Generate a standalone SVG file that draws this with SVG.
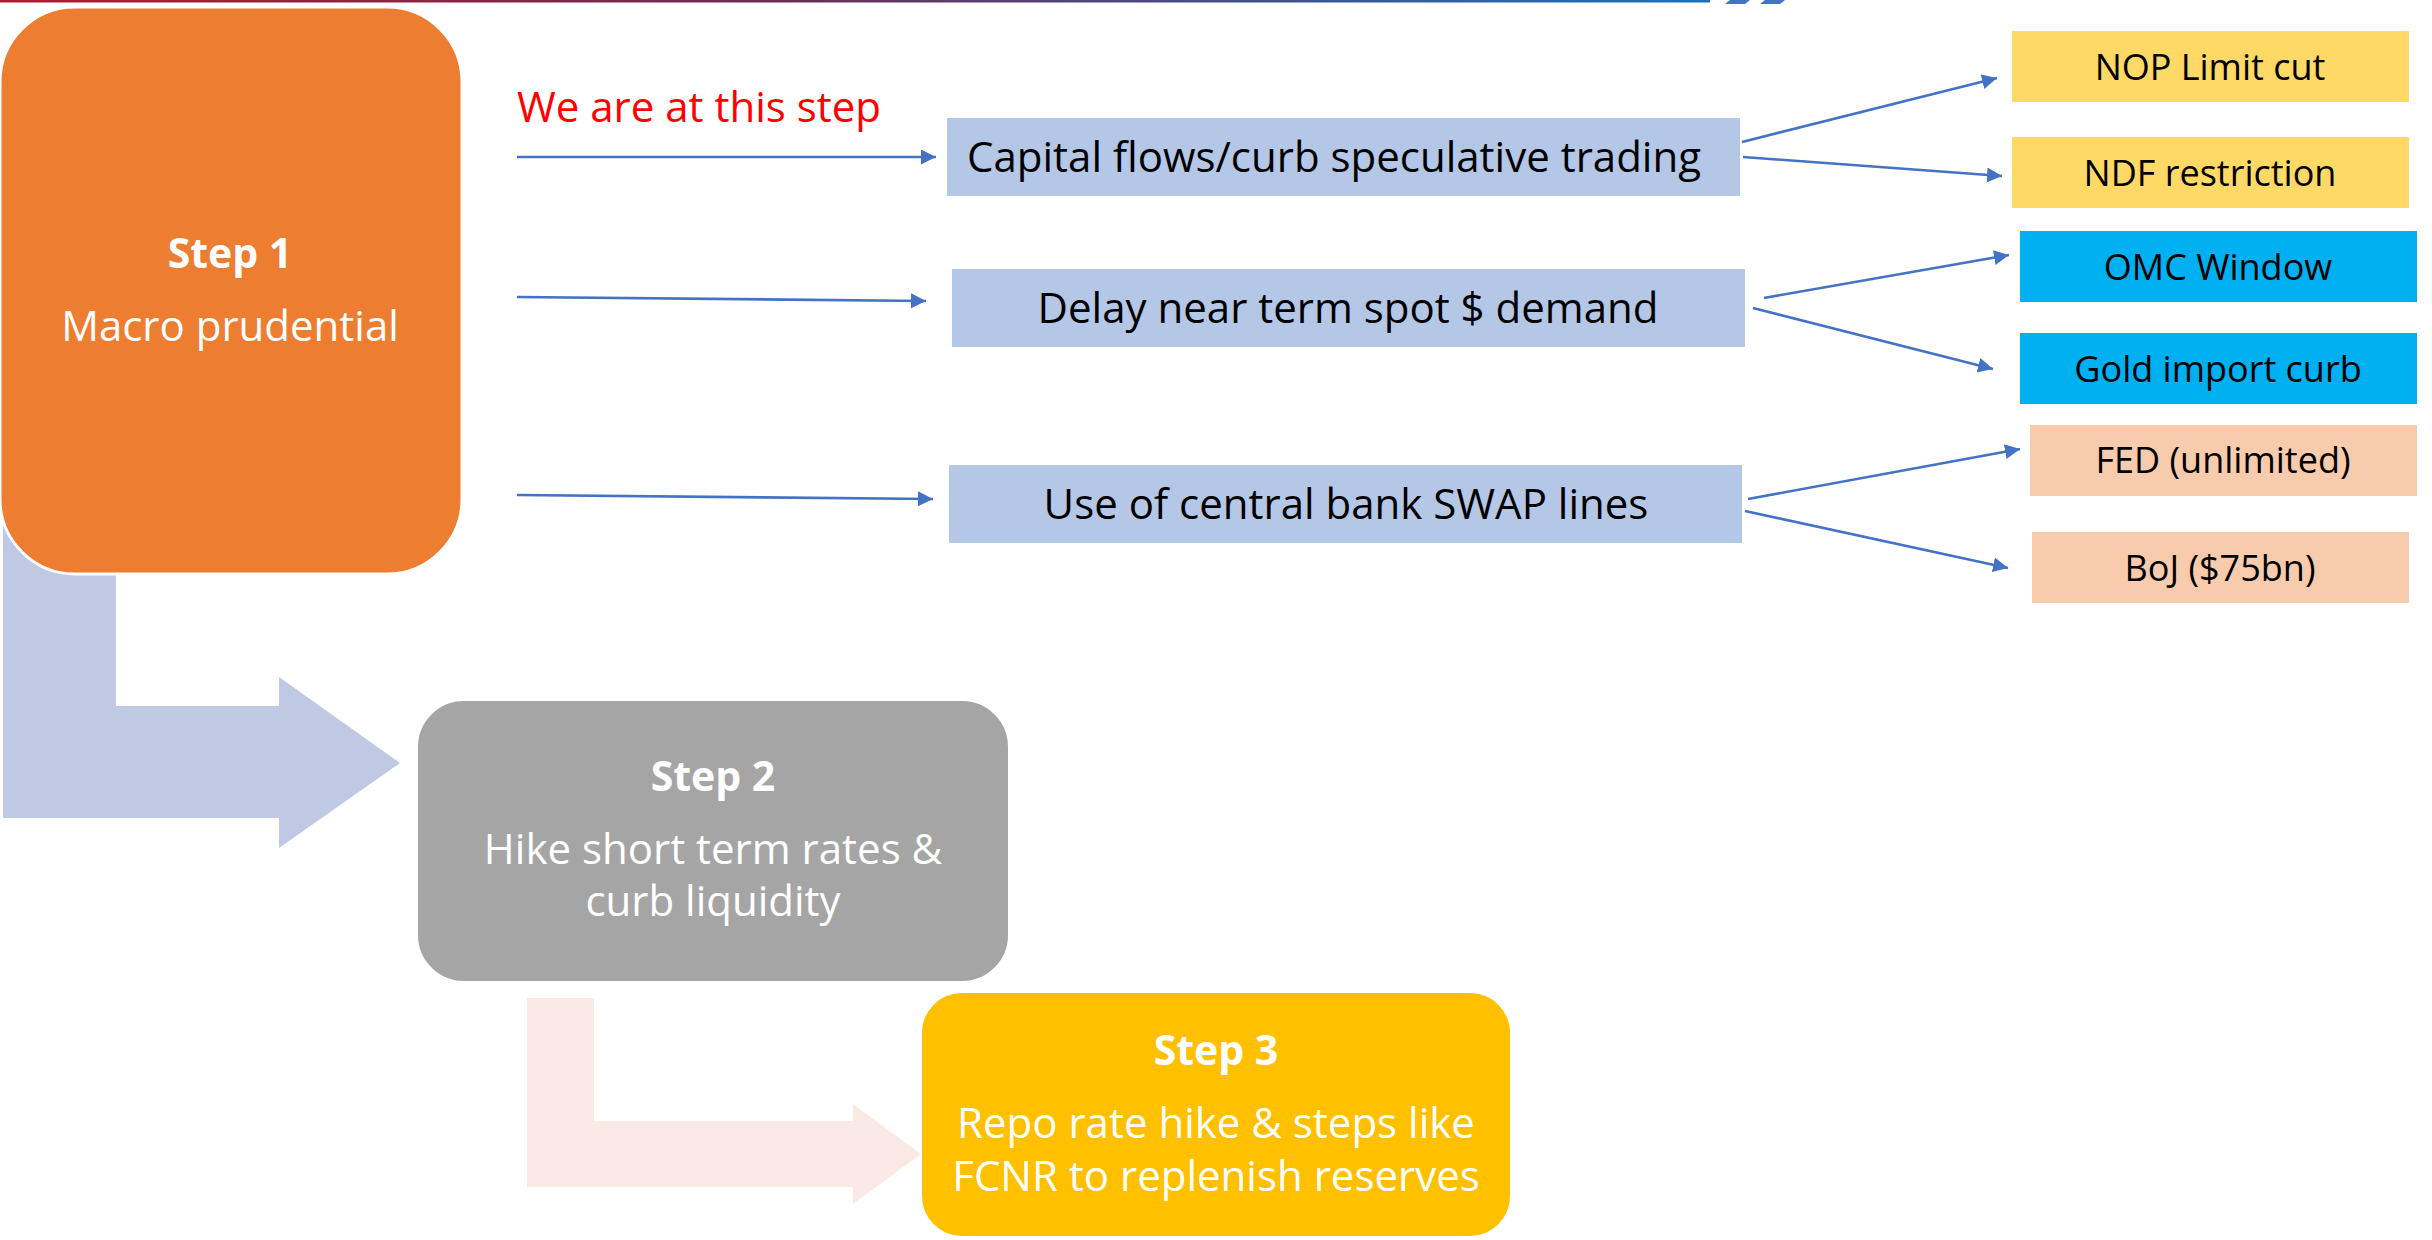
<svg xmlns="http://www.w3.org/2000/svg" width="2432" height="1240" viewBox="0 0 2432 1240">
  <style>
    .t { font-family: "Open Sans", "Liberation Sans", sans-serif; text-anchor: middle; }
    .step { font-size: 41px; font-weight: bold; fill: #FFFFFF; }
    .stepbody { font-size: 42px; fill: #FFFFFF; }
    .mid { font-size: 42px; fill: #000000; }
    .leaf { font-size: 36px; fill: #000000; }
    .note { font-size: 42px; fill: #FF0000; text-anchor: start; }
    .mbox { fill: #B4C7E7; }
    .conn { stroke: #4472C4; stroke-width: 2.6; fill: none; marker-end: url(#arrow); }
  </style>
  <defs>
    <linearGradient id="topbar" x1="0" y1="0" x2="1" y2="0">
      <stop offset="0" stop-color="#B2182B"/>
      <stop offset="0.45" stop-color="#6B2F55"/>
      <stop offset="1" stop-color="#1C72BE"/>
    </linearGradient>
    <marker id="arrow" markerUnits="userSpaceOnUse" markerWidth="16" markerHeight="16" refX="15" refY="7.5" orient="auto">
      <path d="M0,0 L15,7.5 L0,15 z" fill="#4472C4"/>
    </marker>
  </defs>

  <!-- header rule -->
  <rect x="0" y="0" width="1710" height="2.5" fill="url(#topbar)"/>
  <polygon points="1725,4 1730,0 1750,0 1745,4" fill="#4472C4"/>
  <polygon points="1760,4 1765,0 1785,0 1780,4" fill="#4472C4"/>

  <!-- bent flow arrows between steps -->
  <polygon id="flow-1-2" points="3,300 116,300 116,706 279,706 279,677 400,763 279,848 279,818 3,818" fill="#BFC9E3"/>
  <polygon id="flow-2-3" points="527,998 594,998 594,1121 853,1121 853,1104 921,1154 853,1204 853,1187 527,1187" fill="#FBE9E5"/>

  <!-- Step 1 -->
  <g id="step1">
    <rect x="0" y="7" width="462" height="567" rx="75" ry="75" fill="#ED7D31" stroke="#FFFFFF" stroke-width="3"/>
    <text class="t step" x="230" y="268">Step 1</text>
    <text class="t stepbody" x="230" y="341">Macro prudential</text>
  </g>

  <!-- Step 2 -->
  <g id="step2">
    <rect x="417" y="700" width="592" height="282" rx="47" ry="47" fill="#A5A5A5" stroke="#FFFFFF" stroke-width="2"/>
    <text class="t step" x="713" y="791">Step 2</text>
    <text class="t stepbody" x="713" y="864">Hike short term rates &amp;</text>
    <text class="t stepbody" x="713" y="916">curb liquidity</text>
  </g>

  <!-- Step 3 -->
  <g id="step3">
    <rect x="921" y="992" width="590" height="245" rx="41" ry="41" fill="#FFC000" stroke="#FFFFFF" stroke-width="2"/>
    <text class="t step" x="1216" y="1065">Step 3</text>
    <text class="t stepbody" x="1216" y="1138">Repo rate hike &amp; steps like</text>
    <text class="t stepbody" x="1216" y="1191">FCNR to replenish reserves</text>
  </g>

  <!-- current position note -->
  <text id="note" class="t note" x="517" y="122">We are at this step</text>

  <!-- measures -->
  <g id="capital-flows">
    <rect class="mbox" x="947" y="118" width="793" height="78"/>
    <text class="t mid" x="1334" y="172">Capital flows/curb speculative trading</text>
  </g>
  <g id="delay-demand">
    <rect class="mbox" x="952" y="269" width="793" height="78"/>
    <text class="t mid" x="1348" y="323">Delay near term spot $ demand</text>
  </g>
  <g id="swap-lines">
    <rect class="mbox" x="949" y="465" width="793" height="78"/>
    <text class="t mid" x="1346" y="519">Use of central bank SWAP lines</text>
  </g>

  <!-- instruments -->
  <g id="nop-limit">
    <rect x="2012" y="31" width="397" height="71" fill="#FFD966"/>
    <text class="t leaf" x="2210" y="80">NOP Limit cut</text>
  </g>
  <g id="ndf-restriction">
    <rect x="2012" y="137" width="397" height="71" fill="#FFD966"/>
    <text class="t leaf" x="2210" y="186">NDF restriction</text>
  </g>
  <g id="omc-window">
    <rect x="2020" y="231" width="397" height="71" fill="#00B0F0"/>
    <text class="t leaf" x="2218" y="280">OMC Window</text>
  </g>
  <g id="gold-curb">
    <rect x="2020" y="333" width="397" height="71" fill="#00B0F0"/>
    <text class="t leaf" x="2218" y="382">Gold import curb</text>
  </g>
  <g id="fed">
    <rect x="2030" y="425" width="387" height="71" fill="#F8CBAD"/>
    <text class="t leaf" x="2223" y="473">FED (unlimited)</text>
  </g>
  <g id="boj">
    <rect x="2032" y="532" width="377" height="71" fill="#F8CBAD"/>
    <text class="t leaf" x="2220" y="581">BoJ ($75bn)</text>
  </g>

  <!-- connectors -->
  <g id="connectors">
    <line class="conn" x1="517" y1="157" x2="936" y2="157"/>
    <line class="conn" x1="517" y1="297" x2="926" y2="301"/>
    <line class="conn" x1="517" y1="495" x2="933" y2="499"/>
    <line class="conn" x1="1742" y1="142" x2="1997" y2="78"/>
    <line class="conn" x1="1743" y1="157" x2="2002" y2="176"/>
    <line class="conn" x1="1764" y1="298" x2="2009" y2="255"/>
    <line class="conn" x1="1753" y1="308" x2="1993" y2="369"/>
    <line class="conn" x1="1748" y1="499" x2="2020" y2="449"/>
    <line class="conn" x1="1745" y1="511" x2="2008" y2="568"/>
  </g>
</svg>
